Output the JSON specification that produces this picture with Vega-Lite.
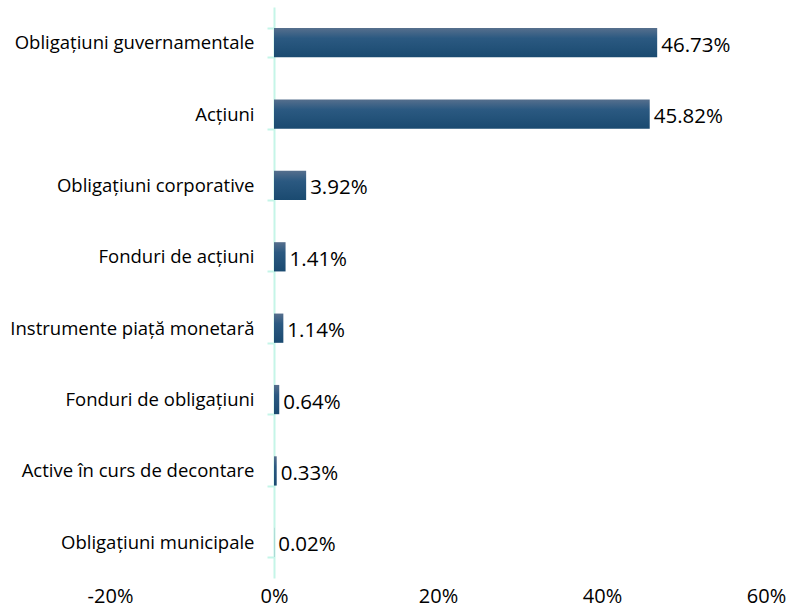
{
  "$schema": "https://vega.github.io/schema/vega-lite/v6.json",
  "autosize": "none",
  "width": 656,
  "height": 571,
  "padding": {"left": 110, "top": 7, "right": 21, "bottom": 35},
  "background": "white",
  "config": {"view": {"stroke": null}},
  "data": {
    "values": [
      {"cat": "Obligațiuni guvernamentale", "val": 46.73},
      {"cat": "Acțiuni", "val": 45.82},
      {"cat": "Obligațiuni corporative", "val": 3.92},
      {"cat": "Fonduri de acțiuni", "val": 1.41},
      {"cat": "Instrumente piață monetară", "val": 1.14},
      {"cat": "Fonduri de obligațiuni", "val": 0.64},
      {"cat": "Active în curs de decontare", "val": 0.33},
      {"cat": "Obligațiuni municipale", "val": 0.02}
    ]
  },
  "encoding": {
    "y": {
      "field": "cat", "type": "nominal", "sort": null,
      "scale": {"paddingInner": 0.59, "paddingOuter": 0.295},
      "axis": {
        "title": null, "offset": -164, "domainColor": "#c5f5e8", "domainWidth": 2,
        "tickColor": "#c5f5e8", "tickWidth": 2, "tickSize": 7, "tickBand": "extent",
        "labelFont": "Open Sans", "labelFontSize": 18.5, "labelColor": "#000000", "labelPadding": 13,
        "labelLimit": 400
      }
    }
  },
  "layer": [
    {
      "mark": {
        "type": "bar",
        "color": {
          "gradient": "linear", "x1": 0, "y1": 0, "x2": 0, "y2": 1,
          "stops": [
            {"offset": 0, "color": "#566f8d"},
            {"offset": 0.35, "color": "#2b5981"},
            {"offset": 1, "color": "#1a4a70"}
          ]
        }
      },
      "encoding": {
        "x": {
          "field": "val", "type": "quantitative",
          "scale": {"domain": [-20, 60], "nice": false},
          "axis": {
            "title": null, "values": [-20, 0, 20, 40, 60], "grid": false, "domain": false, "ticks": false,
            "labelExpr": "datum.value + '%'", "labelFont": "Open Sans", "labelFontSize": 20,
            "labelColor": "#000000", "labelPadding": 8, "labelFlush": false
          }
        }
      }
    },
    {
      "transform": [{"calculate": "format(datum.val, '.2f') + '%'", "as": "label"}],
      "mark": {"type": "text", "align": "left", "baseline": "middle", "dx": 4, "dy": 3, "font": "Open Sans", "fontSize": 20.5, "color": "#000000"},
      "encoding": {
        "x": {"field": "val", "type": "quantitative"},
        "text": {"field": "label", "type": "nominal"}
      }
    }
  ]
}
